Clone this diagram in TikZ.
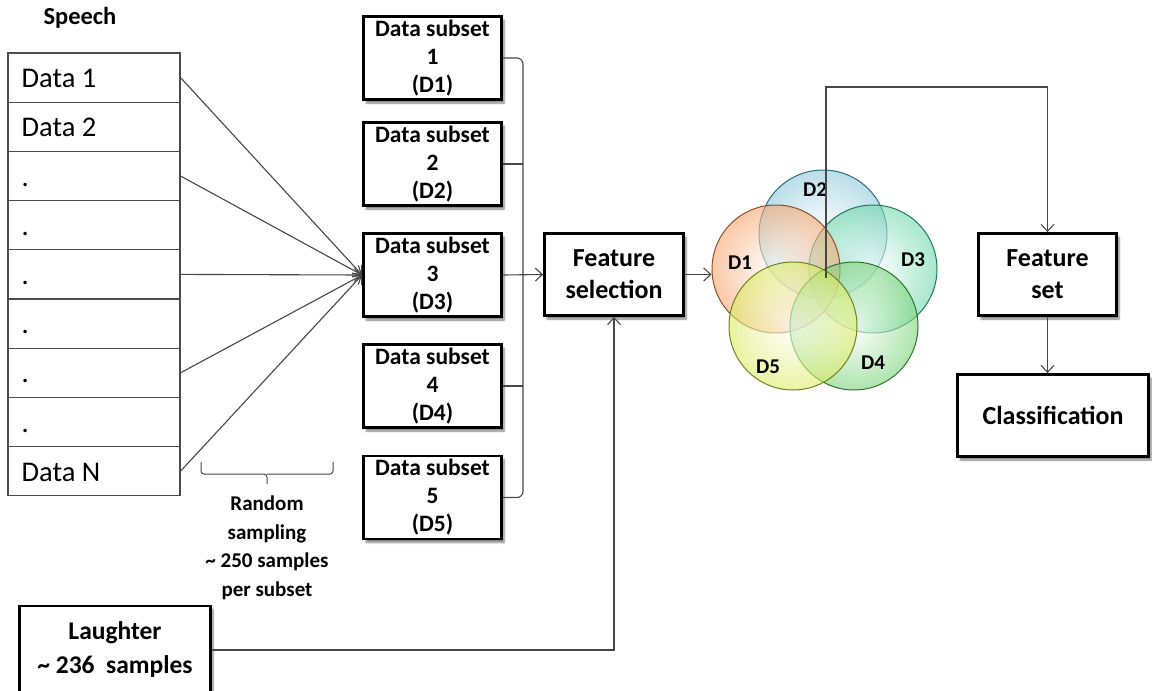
\documentclass[tikz,border=0pt]{standalone}
\usepackage{fontspec}
\setmainfont{Carlito}
\usetikzlibrary{arrows.meta,shadows.blur,calc}

\tikzset{
  conn/.style={draw=black!72, line width=1.1pt},
  arr/.style={conn, -{Straight Barb[length=7pt,width=13pt,line width=1.1pt]}},
  box/.style={draw=black, line width=2.8pt, fill=white, align=center, inner sep=0pt,
    blur shadow={shadow xshift=2.5pt, shadow yshift=-3.5pt, shadow blur steps=6, shadow opacity=50}},
  subset/.style={box, minimum width=138pt, minimum height=83pt,
    font=\bfseries\fontsize{23.5}{28}\selectfont},
  bigbox/.style={box, font=\bfseries\fontsize{26}{32}\selectfont},
  cell/.style={draw=black!70, line width=1.1pt, minimum width=172pt, minimum height=49.2pt, inner sep=0pt},
  celltext/.style={anchor=base west, inner sep=0pt, font=\fontsize{28.5}{33}\selectfont},
  venn/.style={circle, minimum size=128pt, inner sep=0pt, line width=1pt, fill opacity=0.6,
    draw opacity=1, inner color=white},
  vlabel/.style={font=\bfseries\fontsize{21}{25}\selectfont, inner sep=0pt},
}

\begin{document}
\begin{tikzpicture}[x=1pt, y=-1pt]
\useasboundingbox (0,0) rectangle (1152,691);

% speech table
\node[font=\bfseries\fontsize{24.5}{28}\selectfont] (speech) at (80,18) {Speech};
\foreach \i in {1,...,9} {
  \node[cell] (r\i) at (94, {53+49.2*(\i-0.5)}) {};
}
\node[celltext] (t1) at ($(r1.west)+(14,10)$) {Data 1};
\node[celltext] (t2) at ($(r2.west)+(14,10)$) {Data 2};
\foreach \i in {3,...,8} {
  \node[celltext] (t\i) at ($(r\i.west)+(14,10)$) {.};
}
\node[celltext] (t9) at ($(r9.west)+(14,10)$) {Data N};

% data subsets
\node[subset] (d1) at (432.5,58) {Data subset\\1\\(D1)};
\node[subset] (d2) at (432.5,164) {Data subset\\2\\(D2)};
\node[subset] (d3) at (432.5,275) {Data subset\\3\\(D3)};
\node[subset] (d4) at (432.5,386) {Data subset\\4\\(D4)};
\node[subset] (d5) at (432.5,497.5) {Data subset\\5\\(D5)};

% random sampling arrows
\foreach \i in {1,3,5,7,9} {
  \draw[arr] (r\i.east) -- (d3.west);
}

% sampling brace and note
\draw[conn, line width=1pt, rounded corners=3pt] (201,462) -- (201,474) -- (267,474) -- (267,484);
\draw[conn, line width=1pt, rounded corners=3pt] (333,462) -- (333,474) -- (267,474);
\node[align=center, font=\bfseries\fontsize{21}{28.5}\selectfont] (note) at (267,548)
  {Random\\sampling\\\textasciitilde{} 250 samples\\per subset};

% feature selection
\node[bigbox, minimum width=139pt, minimum height=82pt] (fsel) at (614,274.5) {Feature\\selection};
\coordinate (jx) at (523,0);
\draw[conn, rounded corners=6pt] (d1.east) -- (d1.east -| jx) -- (d5.east -| jx) -- (d5.east);
\draw[conn] (d2.east) -- (d2.east -| jx);
\draw[conn] (d4.east) -- (d4.east -| jx);
\draw[arr] (d3.east) -- (fsel.west);

% laughter input
\node[bigbox, font=\bfseries\fontsize{25.5}{34}\selectfont, minimum width=191pt, minimum height=88pt] (lau) at (115,650)
  {Laughter\\\textasciitilde{} 236\ \ samples};
\draw[arr] (lau.east) -| (fsel.south);

% venn diagram of the five subsets
\node[venn, outer color={rgb,255:red,140;green,200;blue,218}, draw={rgb,255:red,40;green,110;blue,130}] (c2) at (823,234) {};
\node[venn, outer color={rgb,255:red,110;green,215;blue,170}, draw={rgb,255:red,30;green,120;blue,90}] (c3) at (873,269) {};
\node[venn, outer color={rgb,255:red,245;green,165;blue,110}, draw={rgb,255:red,140;green,80;blue,40}] (c1) at (776,269) {};
\node[venn, outer color={rgb,255:red,120;green,210;blue,120}, draw={rgb,255:red,40;green,120;blue,40}] (c4) at (854,326) {};
\node[venn, outer color={rgb,255:red,220;green,235;blue,100}, draw={rgb,255:red,110;green,130;blue,30}] (c5) at (793,326) {};
\node[vlabel] (l2) at (815,190) {D2};
\node[vlabel] (l1) at (740,263) {D1};
\node[vlabel] (l3) at (913,260) {D3};
\node[vlabel] (l5) at (768,367) {D5};
\node[vlabel] (l4) at (873,363) {D4};

\draw[arr] (fsel.east) -- (fsel.east -| c1.west);

% feature set and classification
\node[bigbox, minimum width=138pt, minimum height=82pt] (fset) at (1047.5,274.5) {Feature\\set};
\node[bigbox, minimum width=191pt, minimum height=82pt] (cls) at (1053,415.5) {Classification};
\coordinate (vc) at (826,278);
\coordinate (top) at (826,87);
\draw[arr] (vc) -- (top) -| (fset.north);
\draw[arr] (fset.south) -- (fset.south |- cls.north);
\end{tikzpicture}
\end{document}
